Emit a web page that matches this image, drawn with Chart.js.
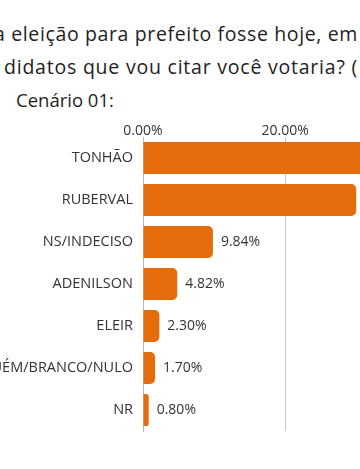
<!DOCTYPE html>
<html lang="pt">
<head>
<meta charset="UTF-8">
<title>Cenário 01</title>
<script src="https://cdn.jsdelivr.net/npm/chart.js@4"></script>
<style>
    html, body {
        margin: 0;
        padding: 0;
        width: 360px;
        height: 469px;
        overflow: hidden;
        background: #fff;
        font-family: "Open Sans", sans-serif;
    }
    .titulo {
        position: absolute;
        white-space: nowrap;
        font-size: 19.5px;
        line-height: 26px;
        color: #1e1e1e;
    }
    #wrap {
        position: absolute;
        left: -60px;
        top: 0;
        width: 651px;
        height: 469px;
    }
</style>
</head>
<body>
    <div class="titulo" id="t1" style="left:-6px; top:21px;">a eleição para prefeito fosse hoje, em</div>
    <div class="titulo" id="t2" style="left:4px; top:54px;">didatos que vou citar você votaria? (</div>
    <div class="titulo" id="t3" style="left:16px; top:87px; font-size:18.5px;">Cenário 01:</div>

    <div id="wrap"><canvas id="grafico"></canvas></div>

<script>
    const candidatos = ['TONHÃO', 'RUBERVAL', 'NS/INDECISO', 'ADENILSON', 'ELEIR', 'NINGUÉM/BRANCO/NULO', 'NR'];
    const percentuais = [50.54, 30.00, 9.84, 4.82, 2.30, 1.70, 0.80];
    const ticksX = [0, 20, 40, 60];

    const laranja = '#e46c0a';
    const fonte = '"Open Sans", sans-serif';

    // largura alvo das linhas longas do titulo (px), ajusta o espacamento das letras
    const larguras = { t1: 364, t2: 354 };
    const medidor = document.createElement('canvas').getContext('2d');
    medidor.font = '19.5px ' + fonte;
    Object.keys(larguras).forEach(id => {
        const el = document.getElementById(id);
        const w = medidor.measureText(el.textContent).width;
        el.style.letterSpacing = ((larguras[id] - w) / el.textContent.length) + 'px';
    });

    const rotulosValor = {
        id: 'rotulosValor',
        afterDatasetsDraw(chart) {
            const ctx = chart.ctx;
            const meta = chart.getDatasetMeta(0);
            ctx.save();
            ctx.font = '14px ' + fonte;
            ctx.fillStyle = '#333';
            ctx.textAlign = 'left';
            ctx.textBaseline = 'middle';
            meta.data.forEach((bar, i) => {
                ctx.fillText(percentuais[i].toFixed(2) + '%', bar.x + 8, bar.y);
            });
            ctx.restore();
        }
    };

    new Chart(document.getElementById('grafico'), {
        type: 'bar',
        data: {
            labels: candidatos,
            datasets: [{
                data: percentuais,
                backgroundColor: laranja,
                borderRadius: 5,
                borderSkipped: 'start',
                categoryPercentage: 1,
                barPercentage: 32 / 42
            }]
        },
        options: {
            indexAxis: 'y',
            responsive: true,
            maintainAspectRatio: false,
            animation: false,
            layout: {
                padding: { top: 117, right: 20, bottom: 38, left: 0 }
            },
            plugins: {
                legend: { display: false },
                tooltip: { enabled: false }
            },
            scales: {
                x: {
                    position: 'top',
                    min: 0,
                    max: 60,
                    afterFit: s => { s.height = 20; },
                    afterBuildTicks: s => { s.ticks = ticksX.map(v => ({ value: v })); },
                    grid: { color: '#c8c8c8', drawTicks: false },
                    border: { display: false },
                    ticks: {
                        padding: -2,
                        color: '#333',
                        font: { family: fonte, size: 14 },
                        callback: v => v.toFixed(2) + '%'
                    }
                },
                y: {
                    afterFit: s => { s.width = 203; },
                    grid: { display: false, drawTicks: false },
                    border: { display: true, color: '#bbb' },
                    ticks: {
                        padding: 10,
                        color: '#333',
                        font: { family: fonte, size: 14.5 }
                    }
                }
            }
        },
        plugins: [rotulosValor]
    });
</script>
</body>
</html>
